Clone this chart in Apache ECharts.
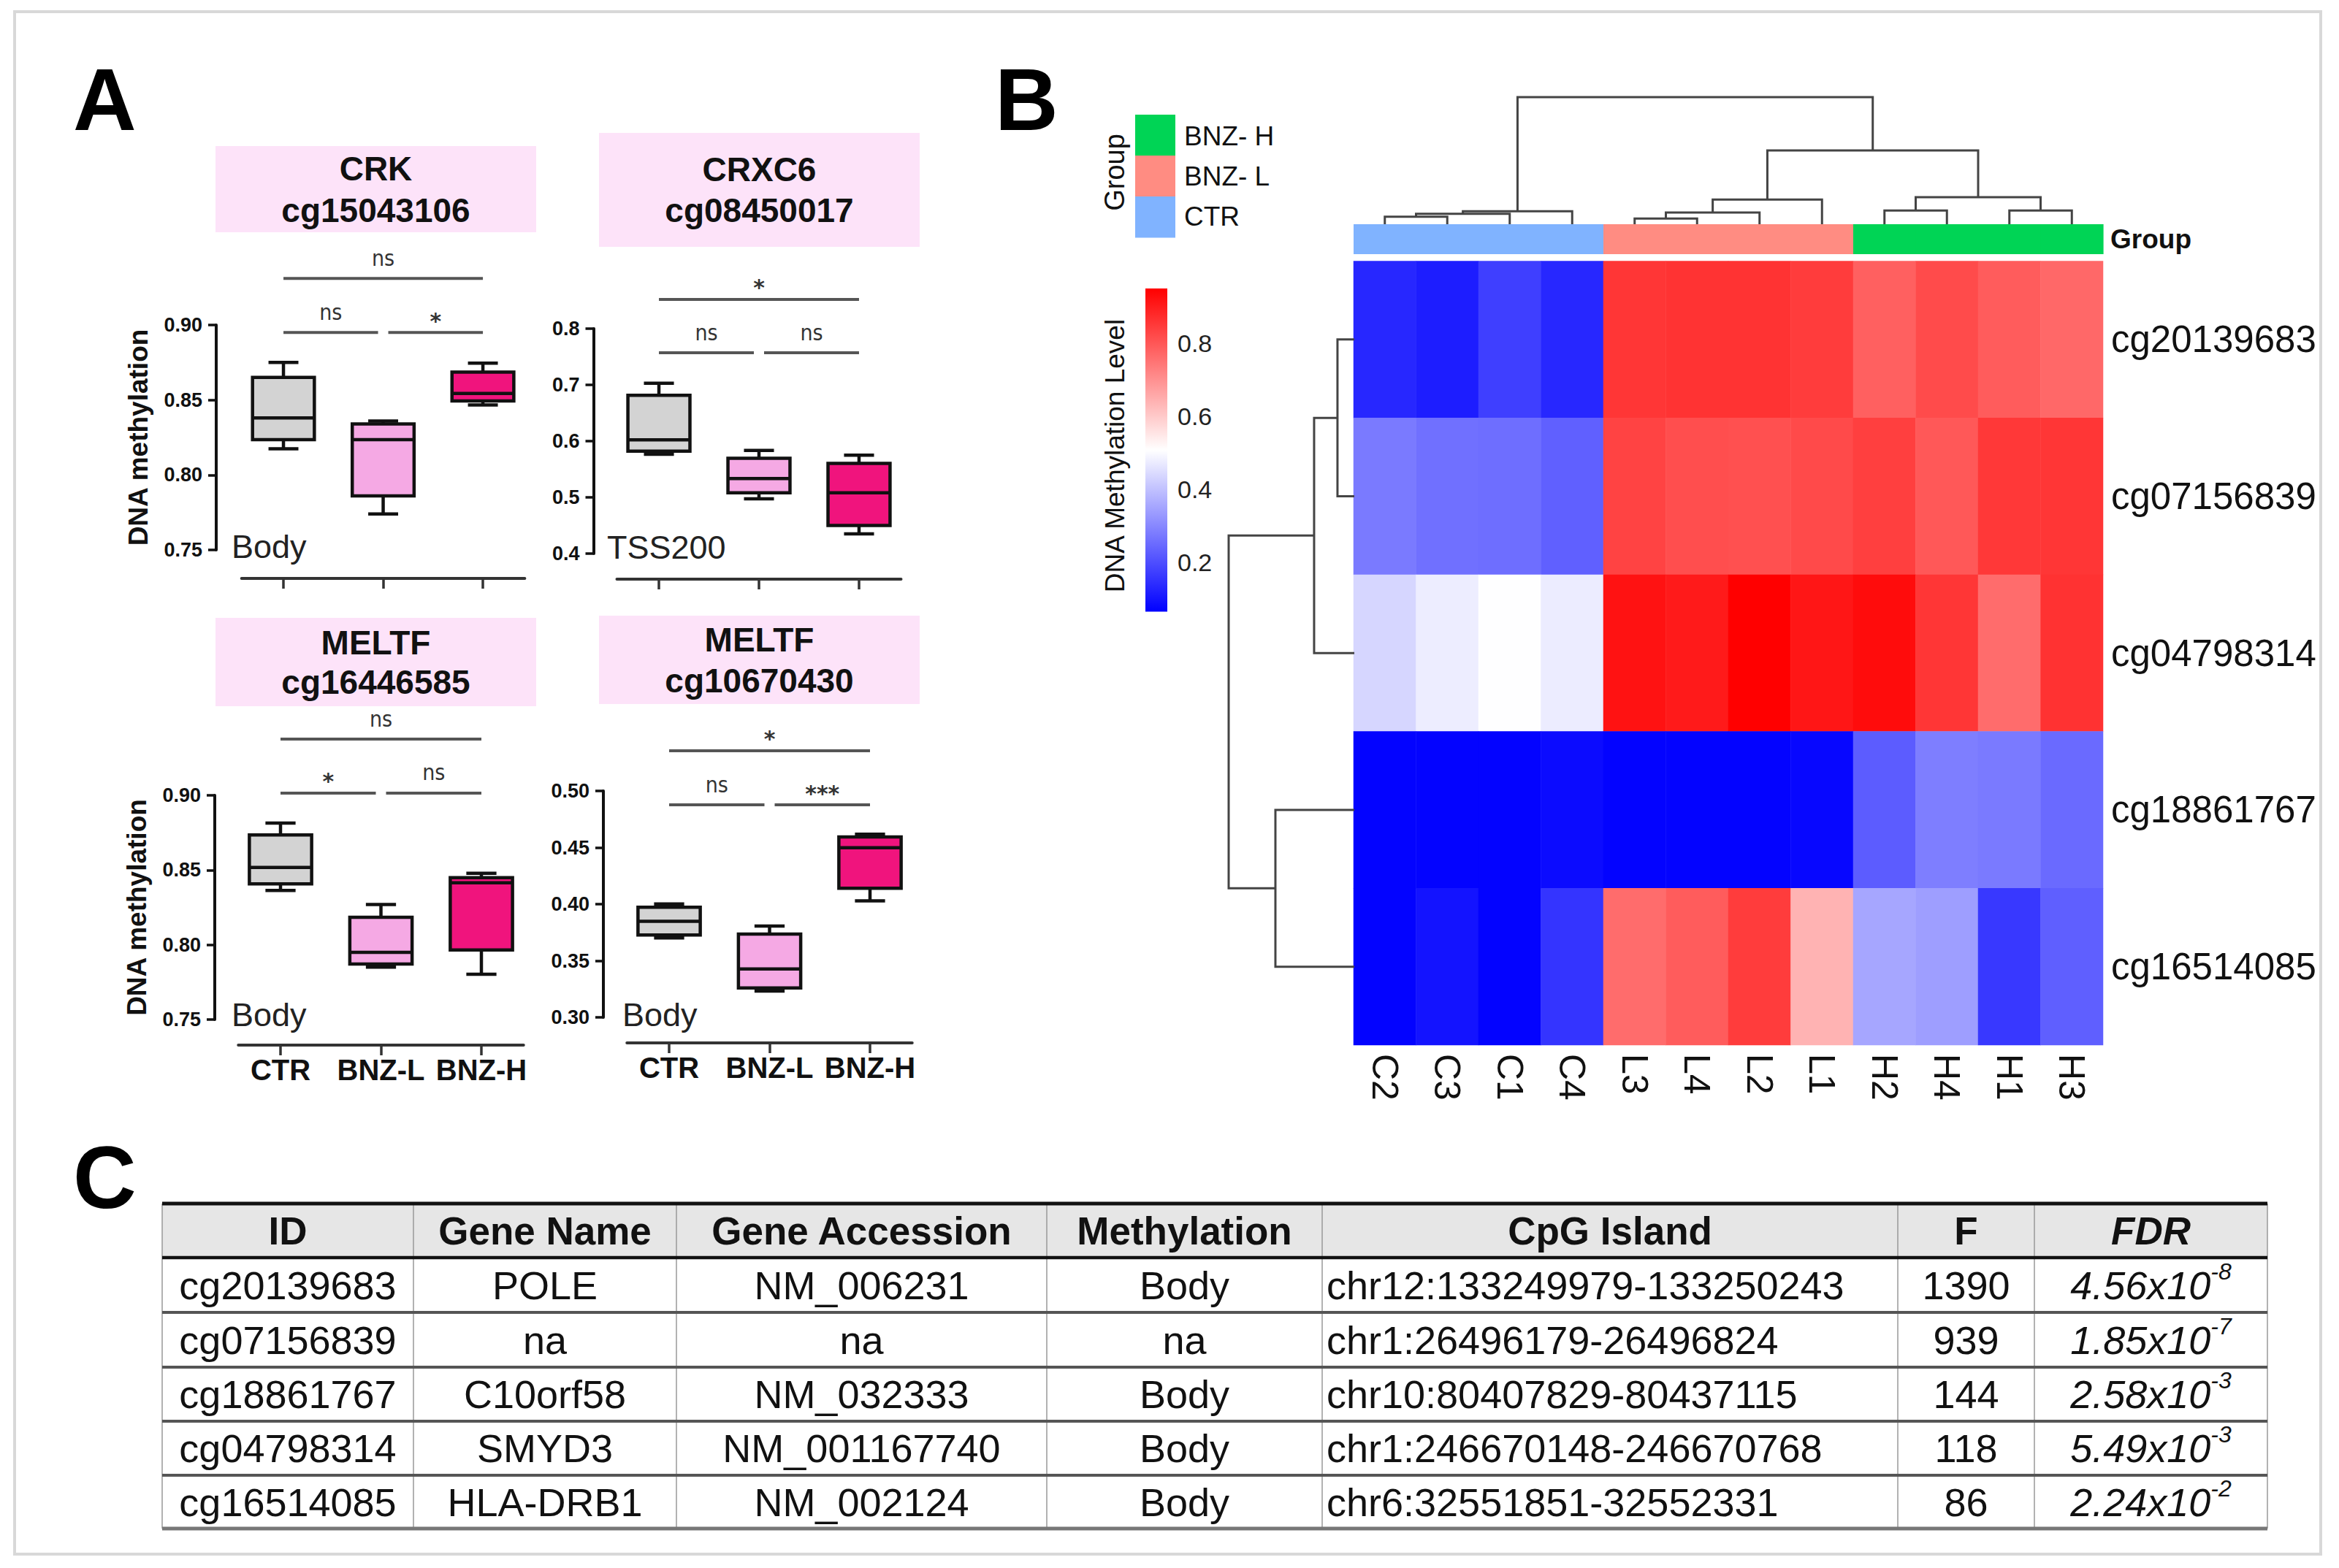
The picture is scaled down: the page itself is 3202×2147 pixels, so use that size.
<!DOCTYPE html>
<html><head><meta charset="utf-8">
<script src="https://cdn.jsdelivr.net/npm/echarts@6/dist/echarts.min.js"></script>
<style>html,body{margin:0;padding:0;background:#fff}#c{width:3202px;height:2147px}</style>
</head><body><div id="c"></div>
<script>
// ================= DATA =================
// Panel A: box plots, each box = [whiskerLow, Q1, median, Q3, whiskerHigh]
const groups = ['CTR', 'BNZ-L', 'BNZ-H'];
const crkBoxes = [[0.8175,0.8235,0.838,0.865,0.875],[0.774,0.786,0.8235,0.834,0.836],[0.8467,0.8493,0.8543,0.8686,0.8746]];
const crxc6Boxes = [[0.5766,0.582,0.6024,0.6816,0.703],[0.4974,0.5082,0.5335,0.5696,0.5836],[0.435,0.45,0.5082,0.5604,0.575]];
const meltfABoxes = [[0.8364,0.8407,0.8517,0.8735,0.8814],[0.785,0.7871,0.7949,0.8184,0.8269],[0.7803,0.7966,0.8415,0.8449,0.8479]];
const meltfBBoxes = [[0.3702,0.3727,0.3848,0.3973,0.4001],[0.3232,0.326,0.3428,0.3736,0.3806],[0.4029,0.4141,0.4499,0.4594,0.4617]];
// significance: [fromGroup, toGroup, label]
const crkSig = [[0,1,'ns'],[1,2,'*'],[0,2,'ns']];
const crxc6Sig = [[0,1,'ns'],[1,2,'ns'],[0,2,'*']];
const meltfASig = [[0,1,'*'],[1,2,'ns'],[0,2,'ns']];
const meltfBSig = [[0,1,'ns'],[1,2,'***'],[0,2,'*']];
const plotTitles = [['CRK','cg15043106'],['CRXC6','cg08450017'],['MELTF','cg16446585'],['MELTF','cg10670430']];
const plotRegions = ['Body','TSS200','Body','Body'];
const yTicks = [[0.75,0.90,0.05,2],[0.4,0.8,0.1,1],[0.75,0.90,0.05,2],[0.30,0.50,0.05,2]];

// Panel B: heatmap
const sampleLabels = ['C2','C3','C1','C4','L3','L4','L2','L1','H2','H4','H1','H3'];
const sampleGroup = [0,0,0,0,1,1,1,1,2,2,2,2];
const heatGroups = ['CTR','BNZ- L','BNZ- H'];
const probeLabels = ['cg20139683','cg07156839','cg04798314','cg18861767','cg16514085'];
const methCg20139683 = [0.132,0.115,0.174,0.132,0.857,0.862,0.862,0.846,0.784,0.819,0.791,0.770];
const methCg07156839 = [0.277,0.260,0.256,0.232,0.833,0.815,0.812,0.822,0.840,0.798,0.853,0.857];
const methCg04798314 = [0.436,0.477,0.505,0.474,0.919,0.905,0.950,0.912,0.929,0.857,0.763,0.864];
const methCg18861767 = [0.070,0.070,0.070,0.084,0.070,0.070,0.070,0.077,0.225,0.284,0.277,0.249];
const methCg16514085 = [0.070,0.098,0.070,0.156,0.763,0.791,0.846,0.640,0.353,0.339,0.163,0.229];
const colorMin = 0.065, colorMax = 0.95;
const colorTicks = [0.2,0.4,0.6,0.8];
// dendrograms: [childA, childB, height]; leaves first, merges numbered after
const colMerges = [[0,1,0.059],[12,2,0.082],[13,3,0.102],[4,5,0.044],[15,6,0.092],[16,7,0.194],[8,9,0.108],[10,11,0.108],[18,19,0.213],[17,20,0.581],[14,21,1.0]];
const rowMerges = [[0,1,0.134],[5,2,0.32],[3,4,0.628],[6,7,1.0]];

// Panel C: table
const tableHeader = ['ID','Gene Name','Gene Accession','Methylation','CpG Island','F','FDR'];
const probeIds = ['cg20139683','cg07156839','cg18861767','cg04798314','cg16514085'];
const geneNames = ['POLE','na','C10orf58','SMYD3','HLA-DRB1'];
const geneAccessions = ['NM_006231','na','NM_032333','NM_001167740','NM_002124'];
const methRegions = ['Body','na','Body','Body','Body'];
const cpgIslands = ['chr12:133249979-133250243','chr1:26496179-26496824','chr10:80407829-80437115','chr1:246670148-246670768','chr6:32551851-32552331'];
const fValues = [1390,939,144,118,86];
const fdrMantissa = ['4.56','1.85','2.58','5.49','2.24'];
const fdrExponent = [-8,-7,-3,-3,-2];

// ================= STYLE / LAYOUT =================
const FONT = "'Liberation Sans', Arial, Helvetica, sans-serif";
const NARROW = "'Liberation Sans Narrow', 'DejaVu Sans Condensed', 'Liberation Sans', sans-serif";
const boxFills = ['#d3d3d3','#f5a9e4','#f0147d'];
const groupColors = ['#80b3ff','#ff8c82','#00d455'];
const boxLayout = [
  {left:330.7, top:445, width:387.7, height:308, yOff:34.7, xOff:39, box:[295,200,439,118], ty:[231,288], region:[317,748], br:[0.895,0.931]},
  {left:844.5, top:450, width:389, height:308, yOff:32, xOff:35, box:[820,182,439,156], ty:[232,288], region:[831,749], br:[0.757,0.852]},
  {left:326.25, top:1089, width:390.5, height:307, yOff:32.25, xOff:35, box:[295,846,439,121], ty:[880,934], region:[317,1389], br:[0.9015,0.9376]},
  {left:858.25, top:1083, width:390.5, height:310, yOff:32.25, xOff:35, box:[820,843,439,121], ty:[876,932], region:[852,1389], br:[0.4877,0.5355]}
];
const allBoxes = [crkBoxes, crxc6Boxes, meltfABoxes, meltfBBoxes];
const allSig = [crkSig, crxc6Sig, meltfASig, meltfBSig];

// ================= BUILD =================
const chart = echarts.init(document.getElementById('c'), null, {renderer:'svg', width:3202, height:2147});
const grids = [], xAxes = [], yAxes = [], series = [];

function boxRenderer(params, api){
  const c = api.value(0);
  const lo = api.coord([c, api.value(1)]);
  const q1 = api.coord([c, api.value(2)]);
  const md = api.coord([c, api.value(3)]);
  const q3 = api.coord([c, api.value(4)]);
  const hi = api.coord([c, api.value(5)]);
  const unit = api.size([1,0])[0];
  const bw = unit*0.62, cw = unit*0.30;
  const x = md[0];
  const ls = {stroke:'#111', lineWidth:4.5};
  return {type:'group', children:[
    {type:'line', shape:{x1:x,y1:hi[1],x2:x,y2:q3[1]}, style:ls},
    {type:'line', shape:{x1:x-cw/2,y1:hi[1],x2:x+cw/2,y2:hi[1]}, style:ls},
    {type:'line', shape:{x1:x,y1:q1[1],x2:x,y2:lo[1]}, style:ls},
    {type:'line', shape:{x1:x-cw/2,y1:lo[1],x2:x+cw/2,y2:lo[1]}, style:ls},
    {type:'rect', shape:{x:x-bw/2,y:q3[1],width:bw,height:q1[1]-q3[1]}, style:{fill:boxFills[c], stroke:'#111', lineWidth:4.5}},
    {type:'line', shape:{x1:x-bw/2,y1:md[1],x2:x+bw/2,y2:md[1]}, style:ls}
  ]};
}

function makeBracketRenderer(sig){
  return function(params, api){
    const s = sig[params.dataIndex];
    const a = api.coord([s[0], api.value(1)]), b = api.coord([s[1], api.value(1)]);
    let x1 = a[0], x2 = b[0];
    if (s[1]-s[0] === 1) { if (s[0] === 0) x2 -= 7; else x1 += 7; }
    const star = s[2].indexOf('*') >= 0;
    return {type:'group', children:[
      {type:'line', shape:{x1:x1,y1:a[1],x2:x2,y2:a[1]}, style:{stroke:'#555', lineWidth:4}},
      {type:'text', x:(x1+x2)/2, y:a[1]-(star?16:28), style:{text:s[2], align:'center', verticalAlign:'middle',
        fontSize:30, fontWeight: star?'bold':'normal', fill:'#333', fontFamily: star?"'DejaVu Sans', sans-serif":NARROW}}
    ]};
  };
}

boxLayout.forEach((L, k) => {
  const t = yTicks[k];
  grids.push({left:L.left, top:L.top, width:L.width, height:L.height, containLabel:false, outerBoundsMode:'none'});
  const showX = k >= 2;
  xAxes.push({gridIndex:k, type:'value', min:-0.42, max:2.42, offset:L.xOff,
    axisLine:{show:true, onZero:false, lineStyle:{color:'#333', width:4}},
    axisTick:{show:true, customValues:[0,1,2], length:14, lineStyle:{color:'#333', width:3.5}},
    axisLabel:{show:showX, customValues:[0,1,2], formatter:v=>groups[Math.round(v)], fontSize:40, fontWeight:'bold', color:'#111', margin:14, fontFamily:FONT},
    splitLine:{show:false}});
  yAxes.push({gridIndex:k, type:'value', min:t[0], max:t[1], interval:t[2], offset:L.yOff,
    axisLine:{show:true, onZero:false, lineStyle:{color:'#111', width:4}},
    axisTick:{show:true, length:11, lineStyle:{color:'#111', width:3.5}},
    axisLabel:{fontSize:27, fontWeight:'bold', color:'#111', margin:19, fontFamily:FONT, formatter:v=>v.toFixed(t[3])},
    splitLine:{show:false},
    name: (k % 2 === 0) ? 'DNA methylation' : '', nameLocation:'middle', nameGap:88, nameRotate:90,
    nameTextStyle:{fontSize:37, fontWeight:'bold', color:'#111', fontFamily:FONT}});
  series.push({type:'custom', xAxisIndex:k, yAxisIndex:k, clip:false, silent:true,
    data: allBoxes[k].map((b,i)=>[i].concat(b)), renderItem: boxRenderer});
});
boxLayout.forEach((L, k) => {
  const sig = allSig[k];
  series.push({type:'custom', xAxisIndex:k, yAxisIndex:k, clip:false, silent:true,
    data: sig.map(s => [s[0], (s[1]-s[0]===1) ? L.br[0] : L.br[1]]), renderItem: makeBracketRenderer(sig)});
});

// ---- Heatmap (grid 4) ----
const methRows = [methCg20139683, methCg07156839, methCg04798314, methCg18861767, methCg16514085];
const heatData = [];
methRows.forEach((row, r) => row.forEach((v, c) => heatData.push([c, r, v])));
grids.push({left:1853, top:357.5, width:1026, height:1073.5, containLabel:false, outerBoundsMode:'none'});
xAxes.push({gridIndex:4, type:'category', data:sampleLabels, position:'bottom',
  axisLine:{show:false}, axisTick:{show:false}, splitLine:{show:false},
  axisLabel:{rotate:-90, interval:0, fontSize:50, color:'#111', margin:12, fontFamily:FONT}});
yAxes.push({gridIndex:4, type:'category', data:probeLabels, position:'right', inverse:true,
  axisLine:{show:false}, axisTick:{show:false}, splitLine:{show:false},
  axisLabel:{interval:0, fontSize:51, color:'#111', margin:11, fontFamily:FONT}});
series.push({type:'heatmap', xAxisIndex:4, yAxisIndex:4, data:heatData, itemStyle:{borderWidth:0}, emphasis:{disabled:true}, silent:true});
const heatSeriesIndex = series.length - 1;

// ---- Group bar (grid 5) ----
grids.push({left:1853, top:307, width:1026, height:41, containLabel:false, outerBoundsMode:'none'});
xAxes.push({gridIndex:5, type:'value', min:-0.5, max:11.5, show:false});
yAxes.push({gridIndex:5, type:'category', data:['Group'], position:'right',
  axisLine:{show:false}, axisTick:{show:false}, splitLine:{show:false},
  axisLabel:{fontSize:37, fontWeight:'bold', color:'#111', margin:10, fontFamily:FONT}});
series.push({type:'custom', xAxisIndex:5, yAxisIndex:5, clip:false, silent:true,
  data: sampleGroup.map((g,i)=>[i, 0, g]),
  renderItem:(params, api)=>{
    const i = api.value(0);
    const a = api.coord([i-0.5, 0]), b = api.coord([i+0.5, 0]);
    const h = api.size([0,1])[1];
    return {type:'rect', shape:{x:a[0], y:a[1]-h/2, width:b[0]-a[0]+0.6, height:h}, style:{fill:groupColors[api.value(2)]}};
  }});

// ---- Dendrograms ----
function buildDendro(nLeaves, merges){
  const pos = [], hgt = [];
  for (let i=0;i<nLeaves;i++){ pos.push(i); hgt.push(0); }
  merges.forEach(m => { pos.push((pos[m[0]]+pos[m[1]])/2); hgt.push(m[2]); });
  return {pos, hgt};
}
const colTree = buildDendro(sampleLabels.length, colMerges);
const rowTree = buildDendro(probeLabels.length, rowMerges);
const dendroStyle = {stroke:'#444', lineWidth:3, fill:'none'};
grids.push({left:1853, top:133, width:1026, height:174, containLabel:false, outerBoundsMode:'none'});
xAxes.push({gridIndex:6, type:'value', min:-0.5, max:11.5, show:false});
yAxes.push({gridIndex:6, type:'value', min:0, max:1, show:false});
series.push({type:'custom', xAxisIndex:6, yAxisIndex:6, clip:false, silent:true,
  data: colMerges.map(m=>[m[0], m[1], m[2]]),
  renderItem:(params, api)=>{
    const m = colMerges[params.dataIndex];
    const xa = colTree.pos[m[0]], ha = colTree.hgt[m[0]], xb = colTree.pos[m[1]], hb = colTree.hgt[m[1]], h = m[2];
    const pts = [api.coord([xa, ha]), api.coord([xa, h]), api.coord([xb, h]), api.coord([xb, hb])];
    return {type:'polyline', shape:{points:pts}, style:dendroStyle};
  }});
grids.push({left:1682, top:357.5, width:172, height:1073.5, containLabel:false, outerBoundsMode:'none'});
xAxes.push({gridIndex:7, type:'value', min:0, max:1, inverse:true, show:false});
yAxes.push({gridIndex:7, type:'value', min:-0.5, max:4.5, inverse:true, show:false});
series.push({type:'custom', xAxisIndex:7, yAxisIndex:7, clip:false, silent:true,
  data: rowMerges.map(m=>[m[2], m[0], m[1]]),
  renderItem:(params, api)=>{
    const m = rowMerges[params.dataIndex];
    const ya = rowTree.pos[m[0]], ha = rowTree.hgt[m[0]], yb = rowTree.pos[m[1]], hb = rowTree.hgt[m[1]], h = m[2];
    const pts = [api.coord([ha, ya]), api.coord([h, ya]), api.coord([h, yb]), api.coord([hb, yb])];
    return {type:'polyline', shape:{points:pts}, style:dendroStyle};
  }});

// ---- Colour bar (grid 8) ----
grids.push({left:1568, top:370, width:30, height:500, containLabel:false, outerBoundsMode:'none'});
xAxes.push({gridIndex:8, type:'value', min:0, max:1, show:false});
yAxes.push({gridIndex:8, type:'value', min:0, max:1, interval:0.2, position:'right',
  axisLine:{show:false}, axisTick:{show:false}, splitLine:{show:false},
  axisLabel:{showMinLabel:false, showMaxLabel:false, fontSize:34, color:'#222', margin:14, fontFamily:FONT,
    formatter:v=> colorTicks.some(t=>Math.abs(t-v)<1e-6) ? v.toFixed(1) : ''}});
series.push({type:'custom', xAxisIndex:8, yAxisIndex:8, clip:false, silent:true,
  data:[[0, colorMin, colorMax]],
  renderItem:(params, api)=>{
    const p0 = api.coord([0, api.value(1)]), p1 = api.coord([1, api.value(2)]);
    return {type:'rect', shape:{x:p0[0], y:p1[1], width:p1[0]-p0[0], height:p0[1]-p1[1]},
      style:{fill:new echarts.graphic.LinearGradient(0,1,0,0,[{offset:0,color:'#0000ff'},{offset:0.5,color:'#ffffff'},{offset:1,color:'#ff0000'}])}};
  }});

// ================= GRAPHIC (labels, legend, table) =================
const G = [];
G.push({type:'rect', z:-10, shape:{x:20,y:16,width:3157,height:2112}, style:{fill:'#fff', stroke:'#d8d8d8', lineWidth:4}});
function txt(x, y, text, o){
  return Object.assign({type:'text', x:x, y:y, style:Object.assign({text:text, fill:'#111', fontFamily:FONT, fontSize:40, align:'left', verticalAlign:'middle'}, o||{})});
}
G.push(txt(100,136,'A',{fontSize:120,fontWeight:'bold',fill:'#000'}));
G.push(txt(1362,136,'B',{fontSize:120,fontWeight:'bold',fill:'#000'}));
G.push(txt(100,1612,'C',{fontSize:120,fontWeight:'bold',fill:'#000'}));
boxLayout.forEach((L,k)=>{
  const b = L.box;
  G.push({type:'rect', shape:{x:b[0],y:b[1],width:b[2],height:b[3]}, style:{fill:'#fde3f9'}});
  G.push(txt(b[0]+b[2]/2, L.ty[0], plotTitles[k][0], {align:'center', fontSize:46, fontWeight:'bold'}));
  G.push(txt(b[0]+b[2]/2, L.ty[1], plotTitles[k][1], {align:'center', fontSize:46, fontWeight:'bold'}));
  G.push(txt(L.region[0], L.region[1], plotRegions[k], {fontSize:45, fill:'#222'}));
});
// group legend
const legendOrder = [2,1,0];
legendOrder.forEach((g,i)=>{
  G.push({type:'rect', shape:{x:1554, y:157+i*56, width:55, height:56.5}, style:{fill:groupColors[g]}});
  G.push(txt(1621, 186+i*55, heatGroups[g], {fontSize:37, fill:'#111'}));
});
G.push(Object.assign(txt(1526,236,'Group',{align:'center', fontSize:38}), {rotation:Math.PI/2}));
G.push(Object.assign(txt(1526,624,'DNA Methylation Level',{align:'center', fontSize:37}), {rotation:Math.PI/2}));

// table
const colEdges = [222,566,926,1433,1810,2598,2785,3104];
const rowEdges = [1648,1722,1797,1872,1946,2020,2093];
G.push({type:'rect', shape:{x:colEdges[0], y:rowEdges[0], width:colEdges[7]-colEdges[0], height:rowEdges[1]-rowEdges[0]}, style:{fill:'#e6e6e6'}});
colEdges.forEach(x=>G.push({type:'line', shape:{x1:x,y1:rowEdges[0],x2:x,y2:rowEdges[6]}, style:{stroke:'#999', lineWidth:1.5}}));
rowEdges.forEach((y,i)=>{
  const st = i===0 ? {stroke:'#111',lineWidth:5} : i===1 ? {stroke:'#111',lineWidth:4.5} : i===6 ? {stroke:'#777',lineWidth:5} : {stroke:'#555',lineWidth:4};
  G.push({type:'line', shape:{x1:colEdges[0],y1:y,x2:colEdges[7],y2:y}, style:st});
});
tableHeader.forEach((h,j)=>{
  const cx = (colEdges[j]+colEdges[j+1])/2, cy = (rowEdges[0]+rowEdges[1])/2;
  G.push(txt(cx, cy, h, {align:'center', fontSize:53, fontWeight:'bold', fontStyle: j===6?'italic':'normal'}));
});
probeIds.forEach((id,r)=>{
  const cy = (rowEdges[r+1]+rowEdges[r+2])/2;
  const cells = [id, geneNames[r], geneAccessions[r], methRegions[r], cpgIslands[r], String(fValues[r])];
  cells.forEach((t,j)=>{
    if (j===4) G.push(txt(colEdges[4]+6, cy, t, {fontSize:54}));
    else G.push(txt((colEdges[j]+colEdges[j+1])/2, cy, t, {align:'center', fontSize:54}));
  });
  G.push({type:'text', x:(colEdges[6]+colEdges[7])/2, y:cy, style:{
    text:'{m|' + fdrMantissa[r] + 'x10}{s|' + fdrExponent[r] + '}', align:'center', verticalAlign:'middle', fill:'#111', fontFamily:FONT,
    rich:{m:{fontSize:54, fontStyle:'italic', lineHeight:70, fontFamily:FONT, fill:'#111'},
          s:{fontSize:32, fontStyle:'italic', lineHeight:28, verticalAlign:'top', fontFamily:FONT, fill:'#111'}}}});
});

chart.setOption({
  animation:false,
  backgroundColor:'#ffffff',
  textStyle:{fontFamily:FONT},
  grid:grids, xAxis:xAxes, yAxis:yAxes,
  visualMap:[{type:'continuous', show:false, seriesIndex:heatSeriesIndex, dimension:2, min:colorMin, max:colorMax,
    inRange:{color:['#0000ff','#ffffff','#ff0000']}}],
  series:series,
  graphic:{elements:G}
});
</script></body></html>
